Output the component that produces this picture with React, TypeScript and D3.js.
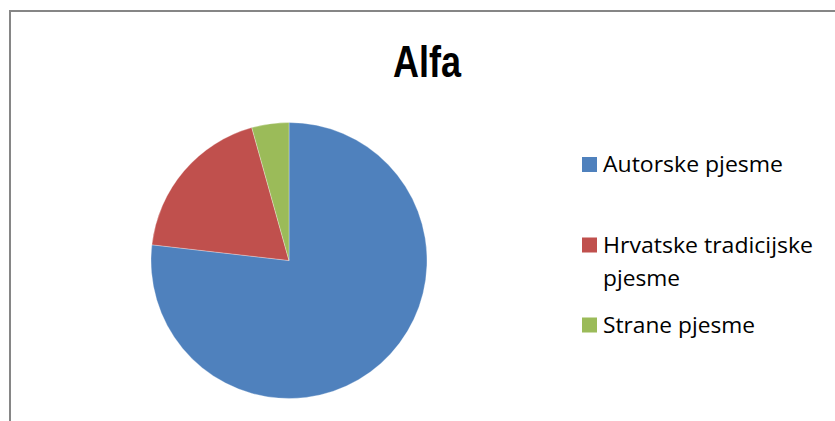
import React, { useRef, useEffect } from 'react';
import * as d3 from 'd3';

const title = 'Alfa';
const categories = ['Autorske pjesme', 'Hrvatske tradicijske pjesme', 'Strane pjesme'];
const values = [53, 13, 3];
const colors = ['#4F81BD', '#C0504D', '#9BBB59'];
// legend labels split the way the original wraps them
const legendLines = [['Autorske pjesme'], ['Hrvatske tradicijske', 'pjesme'], ['Strane pjesme']];

const App = () => {
  const svgRef = useRef<SVGSVGElement>(null);

  useEffect(() => {
    const width = 835;
    const height = 421;

    const svg = d3.select(svgRef.current).attr('width', width).attr('height', height);
    svg.selectAll('*').remove();

    // chart frame (runs off the right and bottom edge)
    svg
      .append('rect')
      .attr('x', 10)
      .attr('y', 11)
      .attr('width', 900)
      .attr('height', 500)
      .attr('fill', '#fff')
      .attr('stroke', '#868686')
      .attr('stroke-width', 2);

    // title
    svg
      .append('text')
      .attr('x', 427)
      .attr('y', 77)
      .attr('text-anchor', 'middle')
      .attr('font-family', '"Liberation Sans Narrow", "Liberation Sans", sans-serif')
      .attr('font-weight', 'bold')
      .attr('font-size', 45)
      .attr('textLength', 68)
      .attr('lengthAdjust', 'spacingAndGlyphs')
      .attr('fill', '#000')
      .text(title);

    // pie
    const cx = 289;
    const cy = 260.5;
    const radius = 138;

    const pie = d3
      .pie<number>()
      .sort(null)
      .value((d) => d);
    const arc = d3.arc<d3.PieArcDatum<number>>().innerRadius(0).outerRadius(radius);

    const pieGroup = svg.append('g').attr('transform', `translate(${cx},${cy})`);
    pieGroup
      .selectAll('path')
      .data(pie(values))
      .enter()
      .append('path')
      .attr('d', arc)
      .attr('fill', (d, i) => colors[i])
      .attr('stroke', '#fff')
      .attr('stroke-opacity', 0.5)
      .attr('stroke-width', 0.6);

    // legend
    const legendX = 582;
    const baselines = [172, 252.5, 332.5];
    const lineStep = 33;
    const textWidths = [[180], [210, 77], [152]];

    const legend = svg.append('g');
    categories.forEach((name, i) => {
      const g = legend.append('g').attr('class', 'legend-item').attr('data-name', name);
      g.append('rect')
        .attr('x', legendX)
        .attr('y', baselines[i] - 15)
        .attr('width', 15)
        .attr('height', 15)
        .attr('fill', colors[i]);
      legendLines[i].forEach((line, j) => {
        g.append('text')
          .attr('x', legendX + 21)
          .attr('y', baselines[i] + j * lineStep)
          .attr('font-family', '"Open Sans", sans-serif')
          .attr('font-size', 22)
          .attr('textLength', textWidths[i][j])
          .attr('lengthAdjust', 'spacingAndGlyphs')
          .attr('fill', '#000')
          .text(line);
      });
    });
  }, []);

  return (
    <div style={{ position: 'absolute', left: 0, top: 0 }}>
      <svg ref={svgRef} style={{ display: 'block' }} />
    </div>
  );
};

export default App;
